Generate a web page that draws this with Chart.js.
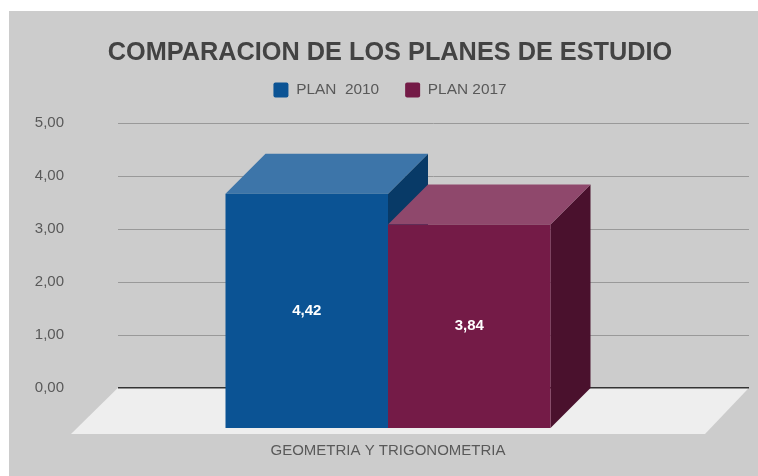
<!DOCTYPE html>
<html>
<head>
<meta charset="utf-8">
<script src="https://cdn.jsdelivr.net/npm/chart.js@4"></script>
<style>
    body { margin: 0; background: #ffffff; }
    #myChart { position: absolute; left: 9px; top: 11px; background: #cccccc; }
</style>
</head>
<body>
<canvas id="myChart" width="749" height="465"></canvas>
<script>
const categories = ['GEOMETRIA Y TRIGONOMETRIA'];
const plan2010 = [4.42];
const plan2017 = [3.84];
const backTicks = [0, 1, 2, 3, 4, 5];

const depth = 40;
const unitsBelowZero = 0.7576; // the floor in front of the back wall, in axis units
const headerShift = 26.5; // title and legend sit centred over the back wall, not the front plane

const fmt = (v) => v.toFixed(2).replace('.', ',');

const fake3d = {
    id: 'fake3d',
    beforeInit(chart) {
        // extra room under the legend
        const fit = chart.legend.fit;
        chart.legend.fit = function () {
            fit.call(this);
            this.height += 15;
        };
    },
    afterLayout(chart) {
        for (const box of [chart.titleBlock, chart.legend]) {
            box.left += headerShift;
            box.right += headerShift;
        }
    },
    beforeDatasetsDraw(chart) {
        const {ctx, chartArea, scales} = chart;
        const zero = scales.yBack.getPixelForValue(0);
        const front = chartArea.bottom;

        // gridlines on the back wall
        ctx.save();
        ctx.strokeStyle = '#999999';
        ctx.lineWidth = 1;
        for (const t of backTicks) {
            if (t === 0) continue;
            const y = Math.round(scales.yBack.getPixelForValue(t)) + 0.5;
            ctx.beginPath();
            ctx.moveTo(chartArea.left + 47, y);
            ctx.lineTo(chartArea.right + 44, y);
            ctx.stroke();
        }

        // floor
        ctx.fillStyle = '#eeeeee';
        ctx.beginPath();
        ctx.moveTo(chartArea.left + 47, zero);
        ctx.lineTo(chartArea.right + 44, zero);
        ctx.lineTo(chartArea.right, front + 6);
        ctx.lineTo(chartArea.left, front + 6);
        ctx.closePath();
        ctx.fill();

        // zero line
        ctx.strokeStyle = '#333333';
        ctx.lineWidth = 1.5;
        ctx.beginPath();
        ctx.moveTo(chartArea.left + 47, zero);
        ctx.lineTo(chartArea.right + 44, zero);
        ctx.stroke();

        // top and side faces of the bars
        chart.data.datasets.forEach((ds, i) => {
            const bar = chart.getDatasetMeta(i).data[0];
            const left = bar.x - bar.width / 2;
            const right = bar.x + bar.width / 2;

            ctx.fillStyle = ds.sideColor;
            ctx.beginPath();
            ctx.moveTo(right, bar.y);
            ctx.lineTo(right + depth, bar.y - depth);
            ctx.lineTo(right + depth, bar.base - depth);
            ctx.lineTo(right, bar.base);
            ctx.closePath();
            ctx.fill();

            ctx.fillStyle = ds.topColor;
            ctx.beginPath();
            ctx.moveTo(left, bar.y);
            ctx.lineTo(left + depth, bar.y - depth);
            ctx.lineTo(right + depth, bar.y - depth);
            ctx.lineTo(right, bar.y);
            ctx.closePath();
            ctx.fill();
        });
        ctx.restore();
    },
    afterDatasetsDraw(chart) {
        const {ctx} = chart;
        ctx.save();
        ctx.fillStyle = '#ffffff';
        ctx.font = 'bold 15px "Liberation Sans"';
        ctx.textAlign = 'center';
        ctx.textBaseline = 'middle';
        chart.data.datasets.forEach((ds, i) => {
            const bar = chart.getDatasetMeta(i).data[0];
            ctx.fillText(fmt(ds.data[0]), bar.x, (bar.y + bar.base) / 2);
        });
        ctx.restore();
    }
};

const chart = new Chart(document.getElementById('myChart'), {
    type: 'bar',
    data: {
        labels: categories,
        datasets: [
            {
                label: 'PLAN  2010',
                data: plan2010,
                backgroundColor: '#0b5394',
                topColor: '#3d75a9',
                sideColor: '#083a67',
                yAxisID: 'y'
            },
            {
                label: 'PLAN 2017',
                data: plan2017,
                backgroundColor: '#741b47',
                topColor: '#8f486c',
                sideColor: '#4a112d',
                yAxisID: 'y'
            }
        ]
    },
    plugins: [fake3d],
    options: {
        responsive: false,
        animation: false,
        layout: {
            padding: {left: 13, right: 53, top: 27, bottom: 10}
        },
        barPercentage: 1,
        categoryPercentage: 0.5126,
        plugins: {
            title: {
                display: true,
                text: 'COMPARACION DE LOS PLANES DE ESTUDIO',
                color: '#434343',
                font: {family: '"Liberation Sans"', size: 25.3, weight: 'bold'},
                padding: {top: 0, bottom: -12}
            },
            legend: {
                labels: {
                    color: '#595959',
                    font: {family: '"Liberation Sans"', size: 15.4},
                    boxWidth: 15,
                    boxHeight: 15,
                    useBorderRadius: true,
                    borderRadius: 2,
                    padding: 26
                }
            },
            tooltip: {enabled: false}
        },
        scales: {
            x: {
                grid: {display: false},
                border: {display: false},
                ticks: {
                    color: '#595959',
                    font: {family: '"Liberation Sans"', size: 15},
                    padding: 6
                }
            },
            y: {
                display: false,
                min: 0,
                max: 5 + unitsBelowZero
            },
            yBack: {
                position: 'left',
                min: -unitsBelowZero,
                max: 5,
                afterBuildTicks: (axis) => {
                    axis.ticks = backTicks.map((v) => ({value: v}));
                },
                afterFit: (axis) => {
                    axis.width = 49;
                },
                grid: {display: false, tickLength: 0},
                border: {display: false},
                ticks: {
                    color: '#595959',
                    font: {family: '"Liberation Sans"', size: 15},
                    padding: 7,
                    callback: (v) => fmt(v)
                }
            }
        }
    }
});
</script>
</body>
</html>
